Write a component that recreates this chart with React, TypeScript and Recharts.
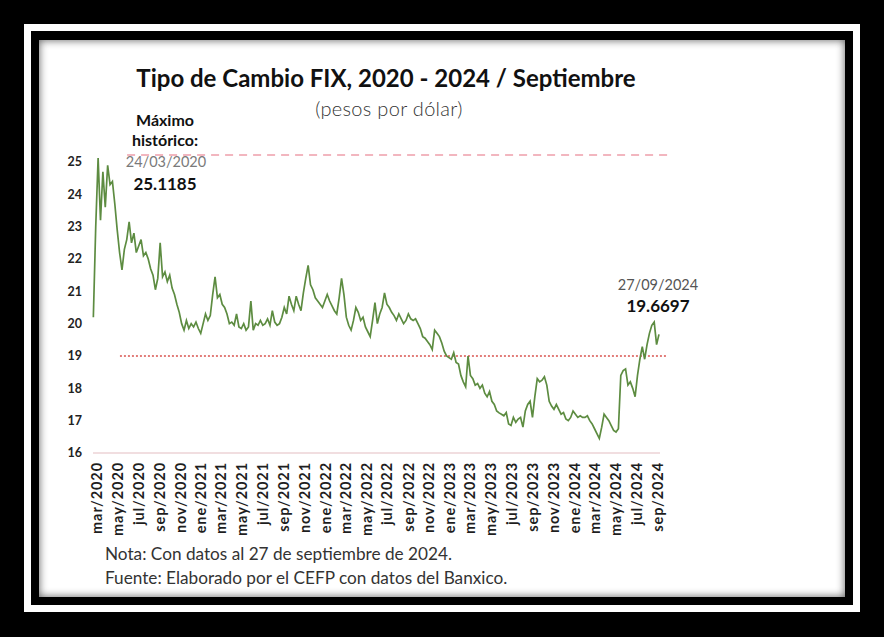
import { LineChart, Line, XAxis, YAxis, ReferenceLine } from "recharts";

// weekly FIX values (pesos por dólar), starting 10/03/2020
const fix2020 = [
  20.2, 23.0, 25.12, 23.2, 24.7, 23.6, 24.9, 24.3, 24.4, 23.7,
  22.9, 22.2, 21.66, 22.3, 22.6, 23.15, 22.5, 22.8, 22.2, 22.4,
  22.6, 22.1, 22.2, 22.0, 21.7, 21.5, 21.05, 21.4, 22.5, 21.45,
  21.6, 21.3, 21.5, 21.1, 20.9, 20.6, 20.35, 20.0, 19.8, 20.1,
  19.85, 20.0, 19.9,
];
const fix2021 = [
  20.05, 19.85, 19.7, 20.0, 20.3, 20.1, 20.25, 20.9, 21.45, 20.8,
  20.9, 20.6, 20.5, 20.3, 20.0, 20.05, 19.95, 20.3, 19.9, 19.85,
  20.0, 19.8, 19.9, 20.7, 19.8, 20.0, 19.95, 20.1, 19.95, 20.0,
  20.15, 19.95, 20.4, 20.05, 19.95, 20.0, 20.2, 20.5, 20.3, 20.85,
  20.6, 20.4, 20.85, 20.6, 20.4, 20.95, 21.4, 21.8, 21.2, 21.05,
  20.8, 20.7,
];
const fix2022 = [
  20.6, 20.5, 20.7, 20.9, 20.7, 20.55, 20.4, 20.3, 20.8, 21.4,
  20.9, 20.2, 19.95, 19.8, 20.1, 20.5, 20.35, 20.1, 20.2, 19.9,
  19.75, 19.6, 20.1, 20.65, 20.0, 20.3, 20.5, 20.95, 20.6, 20.5,
  20.35, 20.25, 20.1, 20.3, 20.15, 20.0, 20.1, 20.3, 20.15, 20.1,
  20.15, 20.0, 19.85, 19.6, 19.55, 19.45, 19.35, 19.2, 19.8, 19.7,
  19.6, 19.4,
];
const fix2023 = [
  19.15, 19.0, 18.95, 18.9, 19.1, 18.8, 18.75, 18.4, 18.2, 18.05,
  19.0, 18.4, 18.3, 18.1, 18.15, 18.0, 18.1, 17.85, 17.74, 17.9,
  17.6, 17.5, 17.3, 17.24, 17.2, 17.15, 17.25, 16.9, 16.85, 17.1,
  16.95, 17.05, 17.1, 16.8, 17.3, 17.5, 17.6, 17.1, 17.75, 18.3,
  18.2, 18.25, 18.36, 18.1, 17.6, 17.45, 17.35, 17.5, 17.35, 17.2,
  17.25, 17.05,
];
const fix2024 = [
  17.0, 17.1, 17.3, 17.2, 17.1, 17.15, 17.1, 17.1, 17.15, 17.0,
  16.9, 16.75, 16.6, 16.45, 16.8, 17.2, 17.1, 17.0, 16.85, 16.7,
  16.65, 16.75, 18.4, 18.55, 18.6, 18.1, 18.2, 18.0, 17.74, 18.4,
  18.9, 19.29, 18.9, 19.35, 19.7, 19.95, 20.05, 19.35, 19.67,
];

const tickLabels = [
  "mar/2020", "may/2020", "jul/2020", "sep/2020", "nov/2020",
  "ene/2021", "mar/2021", "may/2021", "jul/2021", "sep/2021", "nov/2021",
  "ene/2022", "mar/2022", "may/2022", "jul/2022", "sep/2022", "nov/2022",
  "ene/2023", "mar/2023", "may/2023", "jul/2023", "sep/2023", "nov/2023",
  "ene/2024", "mar/2024", "may/2024", "jul/2024", "sep/2024",
];
const yTicks = [16, 17, 18, 19, 20, 21, 22, 23, 24, 25];

const maxLevel = 25.22;
const refLevel = 19;

const DAY = 86400000;
const ORIGIN = Date.UTC(2020, 2, 9);
const dayOf = (t: number) => Math.round((t - ORIGIN) / DAY);
const END = dayOf(Date.UTC(2024, 8, 27));

const weekly = [...fix2020, ...fix2021, ...fix2022, ...fix2023, ...fix2024];
const data = weekly.map((v, i) => ({ d: 1 + 7 * i, v }));
const xTicks = tickLabels.map((_, k) => dayOf(Date.UTC(2020, 2 + 2 * k, 20)));

const FONT = "Lato, 'Open Sans', sans-serif";

function MonthTick(props: any) {
  const { x, y, payload } = props;
  const label = tickLabels[xTicks.indexOf(payload.value)];
  return (
    <text
      x={x}
      y={y}
      transform={`rotate(-90 ${x} ${y})`}
      textAnchor="end"
      dy="0.36em"
      fontSize={14.5}
      fontWeight={700}
      letterSpacing={0.9}
      fill="#1e1e1e"
      fontFamily={FONT}
    >
      {label}
    </text>
  );
}

function Txt({ cx, cy, size, weight = 400, color = "#111", spacing = 0, children }: any) {
  return (
    <div
      style={{
        position: "absolute",
        left: cx - 250,
        width: 500,
        top: cy - size * 0.6,
        lineHeight: `${size * 1.2}px`,
        fontSize: size,
        fontWeight: weight,
        letterSpacing: spacing,
        color,
        textAlign: "center",
        fontFamily: FONT,
        whiteSpace: "nowrap",
      }}
    >
      {children}
    </div>
  );
}

export default function App() {
  return (
    <div style={{ position: "absolute", left: 0, top: 0, width: 884, height: 637, background: "#000", overflow: "hidden" }}>
      <div style={{ position: "absolute", left: 24, top: 24, width: 836, height: 588, background: "#fff" }} />
      <div style={{ position: "absolute", left: 31, top: 31, width: 822, height: 574, background: "#000" }} />
      <div
        style={{
          position: "absolute",
          left: 39,
          top: 40,
          width: 806,
          height: 557,
          background: "#fff",
          boxShadow: "inset 0 0 8px rgba(0,0,0,0.65)",
        }}
      />
      <div style={{ position: "absolute", left: 0, top: 0 }}>
        <LineChart width={884} height={637} data={data} margin={{ top: 152.3, right: 224, bottom: 99, left: 63 }}>
          <XAxis
            dataKey="d"
            type="number"
            domain={[0, END]}
            ticks={xTicks}
            interval={0}
            tick={<MonthTick />}
            tickSize={0}
            tickMargin={9}
            height={85}
            axisLine={{ stroke: "#ecd3d6", strokeWidth: 1.5 }}
          />
          <YAxis
            type="number"
            domain={[16, 25.3]}
            ticks={yTicks}
            interval={0}
            width={30}
            tickSize={0}
            tickMargin={11}
            axisLine={false}
            tick={{ fontSize: 12.5, fontWeight: 700, fill: "#222", fontFamily: FONT }}
          />
          <ReferenceLine
            segment={[{ x: 100, y: maxLevel }, { x: 1692, y: maxLevel }]}
            ifOverflow="visible"
            stroke="#f2b6bf"
            strokeWidth={2}
            strokeDasharray="8 6"
          />
          <ReferenceLine
            segment={[{ x: 79, y: refLevel }, { x: 1683, y: refLevel }]}
            ifOverflow="visible"
            stroke="#d9534f"
            strokeWidth={1.5}
            strokeDasharray="2 2"
          />
          <Line type="linear" dataKey="v" stroke="#5d8c41" strokeWidth={1.7} dot={false} isAnimationActive={false} />
        </LineChart>
      </div>

      <Txt cx={386} cy={78} size={24} weight={700}>Tipo de Cambio FIX, 2020 - 2024 / Septiembre</Txt>
      <Txt cx={389} cy={108} size={20} weight={300} color="#333" spacing={0.3}>(pesos por dólar)</Txt>

      <Txt cx={165} cy={120} size={16} weight={700}>Máximo</Txt>
      <Txt cx={165} cy={140} size={16} weight={700}>histórico:</Txt>
      <Txt cx={166} cy={162} size={14.5} color="#7a7a7a">24/03/2020</Txt>
      <Txt cx={165} cy={184} size={17} weight={700}>25.1185</Txt>

      <Txt cx={658} cy={285} size={14.5} color="#555">27/09/2024</Txt>
      <Txt cx={658} cy={306} size={17} weight={700}>19.6697</Txt>

      <div style={{ position: "absolute", left: 105, top: 543, lineHeight: "22px", fontSize: 17.2, color: "#333", fontFamily: FONT, whiteSpace: "nowrap" }}>
        Nota: Con datos al 27 de septiembre de 2024.
      </div>
      <div style={{ position: "absolute", left: 105, top: 567, lineHeight: "22px", fontSize: 17.2, color: "#333", fontFamily: FONT, whiteSpace: "nowrap" }}>
        Fuente: Elaborado por el CEFP con datos del Banxico.
      </div>
    </div>
  );
}
